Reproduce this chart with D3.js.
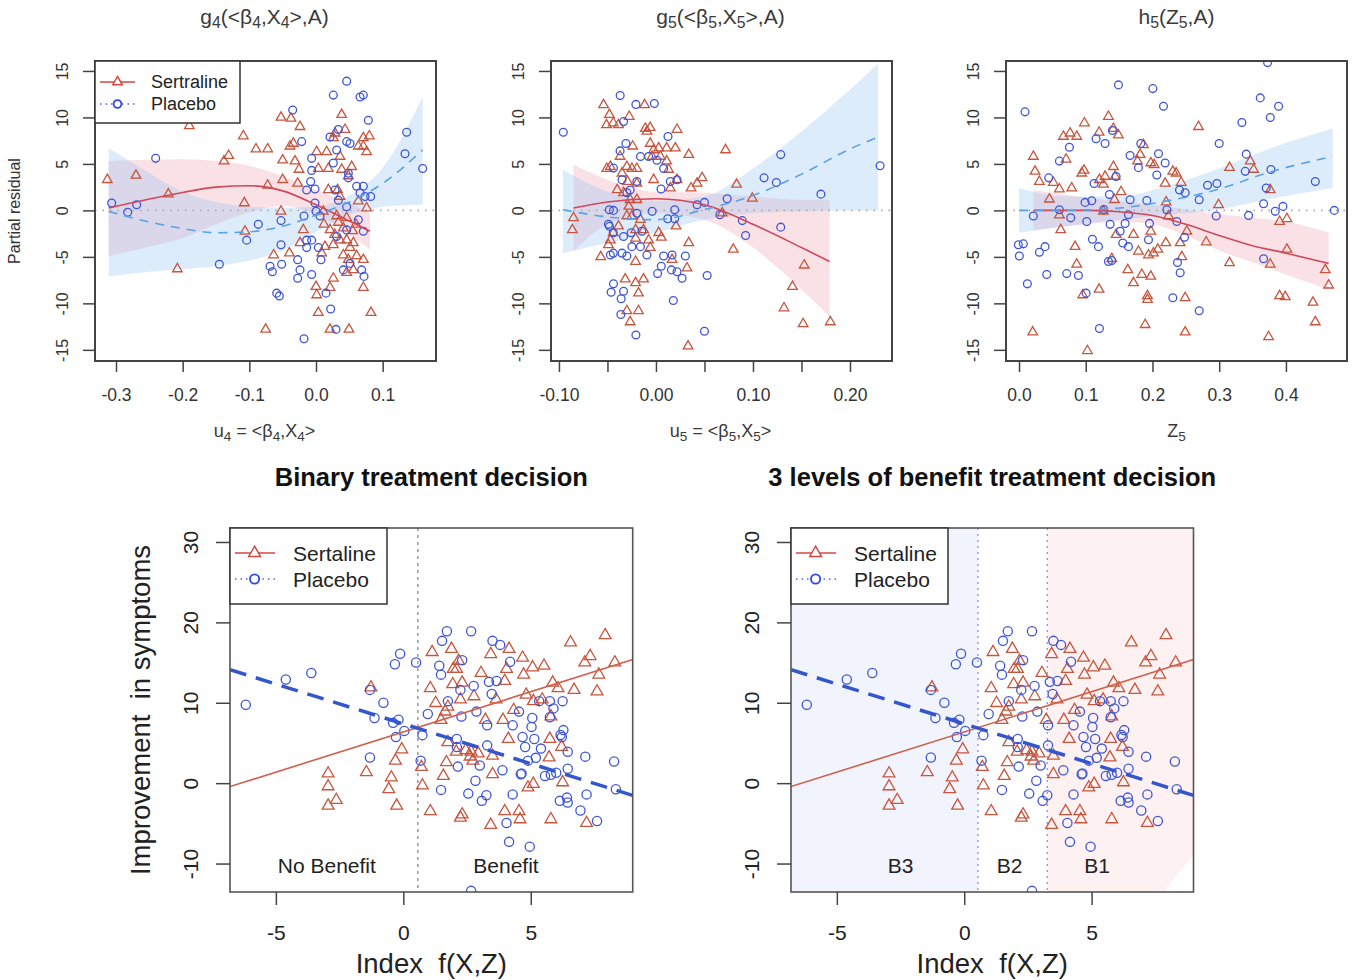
<!DOCTYPE html>
<html>
<head>
<meta charset="utf-8">
<script src="https://cdn.jsdelivr.net/npm/d3@7"></script>
<style>
body { margin: 0; background: #fff; }
svg { font-family: "Liberation Sans", Arial, sans-serif; }
</style>
</head>
<body>
<div id="chart"></div>
<script>
// ---- data ----
var topYTicks = [-15, -10, -5, 0, 5, 10, 15];
var g4XTicks = [-0.3, -0.2, -0.1, 0.0, 0.1];
var g5XTicks = [-0.10, -0.05, 0.00, 0.05, 0.10, 0.15, 0.20];
var h5XTicks = [0.0, 0.1, 0.2, 0.3, 0.4];
var idxXTicks = [-5, 0, 5];
var idxYTicks = [-10, 0, 10, 20, 30];

// [u, fit, lower, upper]
var g4SertFit = [[-0.311,0.25,-4.9,5.3],[-0.25,1.22,-3.9,5.45],[-0.2,1.93,-3.0,5.5],[-0.15,2.5,-1.5,5.3],[-0.1,2.65,-0.2,4.8],[-0.05,2.1,0.5,3.7],[0,0.6,-0.5,2.2],[0.05,-1.15,-2.6,0.8],[0.081,-2.25,-4.2,-0.3]];
var g4PlacFit = [[-0.311,-0.1,-7.1,6.7],[-0.25,-1.25,-6.6,4.0],[-0.2,-1.95,-6.3,2.0],[-0.15,-2.4,-6.0,0.9],[-0.1,-2.3,-5.4,0.4],[-0.05,-1.7,-4.3,0.3],[0,-0.5,-2.3,0.4],[0.05,0.9,-0.5,1.6],[0.1,2.9,0.4,4.6],[0.16,6.5,0.6,12.2]];
var g5SertFit = [[-0.085,0.25,-4.4,4.9],[-0.05,0.9,-1.5,3.3],[0,1.25,-0.3,2.0],[0.05,0.6,-1.0,1.9],[0.1,-1.5,-4.0,1.5],[0.15,-4.0,-8.5,1.15],[0.179,-5.5,-11.4,1.15]];
var g5PlacFit = [[-0.096,0.07,-4.6,4.4],[-0.05,-0.7,-3.5,2.0],[0,-1.0,-2.4,1.0],[0.05,0.1,-1.0,1.5],[0.1,1.6,-0.3,4.5],[0.15,3.9,-0.1,8.5],[0.2,6.6,0,13.0],[0.229,7.9,0,15.8]];
var h5SertFit = [[0.0215,0,-2.1,2.2],[0.1,0,-1.5,1.4],[0.15,-0.15,-1.2,1.0],[0.2,-0.55,-1.5,0.6],[0.25,-1.5,-2.7,0.1],[0.3,-2.7,-4.3,-0.4],[0.35,-3.8,-5.6,-0.8],[0.4,-4.6,-6.9,-1.2],[0.464,-5.7,-8.5,-2.4]];
var h5PlacFit = [[0,0,-2.4,2.4],[0.07,0,-1.7,1.5],[0.15,0.25,-1.0,1.5],[0.22,1.0,-0.5,2.6],[0.3,2.3,0.1,4.5],[0.37,4.0,1.15,6.5],[0.47,5.8,2.4,8.8]];

var g4Sertraline = [[-0.313,3.3],[-0.27,3.76],[-0.2215,1.75],[-0.19,9.1],[-0.208,-6.3],[-0.109,8.0],[-0.1075,0.8],[-0.1065,-2.25],[-0.09,6.6],[-0.0725,6.6],[-0.0725,2.7],[-0.0755,-12.8],[-0.138,5.3],[-0.131,5.9],[-0.0525,10.0],[-0.0375,9.9],[-0.024,9.0],[-0.05,5.4],[-0.05,3.3],[-0.0525,-0.1],[-0.0635,-4.8],[-0.04,-4.6],[-0.034,7.2],[-0.039,6.9],[-0.0315,5.3],[-0.0255,4.4],[-0.0275,2.9],[-0.019,-2.1],[-0.024,-3.5],[0,-8.2],[0.001,-9.1],[0.0035,-11.0],[0.001,6.3],[0.016,6.3],[0.0035,4.5],[0.0185,4.5],[0.0185,2.2],[0.0325,2.2],[0.011,-0.1],[0.0085,-4.6],[0.021,-2.1],[0.026,-3.7],[0.026,-7.3],[0.021,-8.3],[0.021,-12.8],[0.0495,-12.8],[0.0385,10.3],[0.0435,8.7],[0.026,7.8],[0.036,5.8],[0.0385,4.4],[0.0535,4.7],[0.0485,3.7],[0.036,1.5],[0.031,-0.6],[0.041,-1.9],[0.046,-0.8],[0.046,-3.2],[0.056,-3.5],[0.041,-4.8],[0.0485,-5.3],[0.046,-6.7],[0.061,-4.9],[0.0635,6.9],[0.071,6.9],[0.076,6.3],[0.08,8.0],[0.071,7.8],[0.0635,1.0],[0.076,0.25],[0.071,-5.3],[0.071,-8.3],[0.0825,-11.0],[0.056,-6.4],[0.0285,8.3],[0.036,-3.2],[0.051,-4.0],[0.0135,-3.9],[0.0335,-1.3],[0.028,-2.6],[0.055,-2.2],[0.012,-1.5],[0.06,-1.5]];
var g4Placebo = [[-0.3065,0.8],[-0.2825,-0.2],[-0.269,0.6],[-0.2405,5.6],[-0.145,-5.8],[-0.104,-3.2],[-0.0865,-1.5],[-0.069,-6.0],[-0.0655,-6.6],[-0.059,-8.9],[-0.055,-9.2],[-0.0515,-5.8],[-0.0525,-3.7],[-0.0525,-1.1],[-0.035,10.8],[-0.0215,7.4],[-0.0275,-5.3],[-0.0275,-7.3],[-0.024,-6.4],[-0.018,-13.8],[-0.018,-0.6],[-0.014,-3.2],[-0.014,-4.0],[-0.014,2.2],[-0.008,3.1],[-0.0065,5.6],[-0.0065,4.3],[-0.0015,2.3],[0,-0.1],[-0.0065,-3.2],[-0.0065,-6.9],[0.0075,-5.3],[0.006,-0.6],[0.0035,-4.0],[0.015,-8.9],[0.022,-10.6],[0.03,-12.8],[0.026,12.4],[0.046,13.9],[0.066,12.2],[0.071,12.4],[0.0785,9.7],[0.021,7.9],[0.0335,8.7],[0.046,7.4],[0.026,5.1],[0.0485,4.0],[0.0485,3.5],[0.061,2.6],[0.071,2.6],[0.066,1.9],[0.0735,1.5],[0.082,1.5],[0.046,0.4],[0.0635,-1.0],[0.071,-2.25],[0.046,-2.1],[0.051,-5.7],[0.041,-6.4],[0.0685,-6.4],[0.072,-7.1],[0.136,8.4],[0.1335,6.1],[0.16,4.5],[0.031,6.5],[0.051,7.2],[0.0285,2.2],[0.0335,1.1],[0.031,-2.8],[-0.0015,0.8]];

var g5Sertraline = [[-0.085,-0.8],[-0.0862,-2.1],[-0.054,11.35],[-0.048,10.3],[-0.051,9.2],[-0.044,9.4],[-0.0386,9.2],[-0.0276,10.1],[-0.0117,11.35],[-0.011,8.8],[-0.006,8.9],[-0.0093,8.5],[0.0217,8.7],[-0.0569,-5.0],[-0.0507,4.5],[-0.047,4.7],[-0.037,5.8],[-0.024,6.9],[-0.035,4.0],[-0.03,4.7],[-0.0248,4.5],[-0.0197,4.5],[-0.04,2.2],[-0.0293,3.1],[-0.0197,2.9],[-0.0059,7.2],[-0.0024,6.5],[0.0028,6.7],[-0.004,5.8],[0.0045,5.8],[-0.0024,3.3],[0.011,5.3],[0.013,4.4],[0.011,6.7],[0.02,6.7],[0.0148,2.4],[0.0217,3.3],[0.0207,-1.7],[0.0166,-5.3],[0.0338,6.0],[0.0362,2.4],[0.0424,2.9],[0.0476,3.5],[0.0338,-3.5],[0.032,-6.2],[0.0331,-14.6],[0.0717,6.5],[0.0831,2.8],[0.0993,1.3],[0.0683,-0.3],[0.0797,-4.2],[0.1528,-5.9],[0.1407,-8.2],[0.132,-10.5],[0.1517,-12.2],[0.1797,-12.0],[-0.047,-3.2],[-0.049,-3.7],[-0.044,-2.4],[-0.0386,-1.7],[-0.028,0.43],[-0.03,-0.6],[-0.021,-2.1],[-0.0248,-0.6],[-0.0197,1.15],[-0.016,-1.0],[-0.0128,-2.1],[-0.021,-3.0],[-0.021,-5.5],[-0.0317,-7.4],[-0.021,-7.8],[-0.0128,-7.4],[-0.018,-8.9],[-0.03,-10.8],[-0.018,-10.8],[-0.0266,-12.0],[-0.0059,-4.0],[-0.0076,-3.2],[0.0028,-2.4],[0.0055,-2.9],[-0.0266,1.15],[-0.0334,1.9]];
var g5Placebo = [[-0.0955,8.4],[-0.0369,12.35],[-0.0207,11.4],[-0.0017,11.5],[-0.0334,9.55],[-0.031,7.2],[-0.037,6.4],[0.0124,7.95],[-0.0438,4.55],[-0.035,3.3],[-0.03,1.9],[-0.0266,2.2],[-0.0197,3.1],[-0.016,5.8],[-0.0076,5.8],[0.001,5.4],[0.0052,2.3],[0.0148,3.1],[0.0217,3.3],[-0.048,0.07],[-0.0438,0],[-0.049,-1.5],[-0.048,-1.7],[-0.044,-2.4],[-0.0334,-2.8],[-0.0255,-2.4],[-0.0197,-0.3],[-0.0145,-2.25],[-0.004,-0.1],[0.0121,-0.9],[0.0193,0.07],[0.0193,-0.9],[-0.047,-4.8],[-0.044,-4.6],[-0.035,-4.6],[-0.03,-4.9],[-0.0248,-3.9],[-0.016,-3.9],[-0.0093,-4.8],[0.0079,-4.9],[0.0166,-4.8],[0.0303,-4.9],[0.0055,-6.0],[0.0017,-6.8],[0.0159,-6.4],[0.0217,-6.6],[0.0269,-7.3],[0.0528,-7.0],[-0.0438,-7.9],[-0.0462,-8.8],[-0.0334,-8.7],[-0.0359,-9.5],[-0.0362,-11.2],[-0.0207,-13.4],[0.0179,-9.7],[0.05,-13.0],[0.0424,0.6],[0.05,0.86],[0.0734,1.25],[0.089,-1.1],[0.0924,-2.7],[0.1114,3.5],[0.1241,3.0],[0.1286,6.0],[0.1286,-1.8],[0.17,1.75],[0.231,4.8],[0.0659,-0.47],[0.0079,4.5]];

var h5Sertraline = [[0.0215,5.8],[0.024,4.2],[0.0305,3.1],[0.0515,3.0],[0.0605,2.3],[0.079,2.4],[0.0455,1.2],[0.0605,-0.5],[0.0625,-2.1],[0.084,-3.9],[0.0865,-5.8],[0.0955,-9.1],[0.12,-8.5],[0.0205,-13.1],[0.1025,-15.1],[0.0705,5.5],[0.0665,7.95],[0.0765,8.3],[0.0865,7.95],[0.098,9.4],[0.094,4.0],[0.0975,4.3],[0.12,8.4],[0.134,10.1],[0.1415,8.8],[0.149,8.1],[0.1205,3.3],[0.1265,2.8],[0.129,3.65],[0.1415,4.7],[0.144,3.65],[0.153,2.0],[0.143,1.15],[0.1265,-0.1],[0.1455,-2.6],[0.139,-5.2],[0.163,-6.4],[0.1715,-7.8],[0.1715,-2.6],[0.1775,5.3],[0.1815,6.0],[0.1865,7.05],[0.184,-6.9],[0.1975,-7.1],[0.189,-12.3],[0.1925,-9.2],[0.1925,-9.6],[0.1975,-2.25],[0.179,-4.4],[0.194,-4.8],[0.2015,-4.6],[0.208,-4.2],[0.1975,5.1],[0.2025,4.9],[0.219,2.9],[0.2205,0.9],[0.224,-0.6],[0.22,-3.5],[0.2305,4.2],[0.2355,4.0],[0.243,3.0],[0.2415,-3.5],[0.244,-5.0],[0.249,-9.4],[0.249,-13.1],[0.2515,-2.25],[0.269,9.0],[0.2805,-3.4],[0.299,0.6],[0.3155,4.6],[0.3155,-5.65],[0.3465,5.3],[0.3515,4.4],[0.3765,2.2],[0.374,-13.6],[0.3765,-5.8],[0.3905,-1.2],[0.4015,-0.9],[0.4015,-4.2],[0.3905,-9.2],[0.399,-9.3],[0.4405,-9.9],[0.444,-12.0],[0.459,-6.4],[0.464,-8.05]];
var h5Placebo = [[0.009,10.6],[-0.001,-3.7],[0.0065,-3.6],[0.0005,-4.9],[0.0125,-7.9],[0.0215,-0.6],[0.0305,-4.5],[0.039,-3.9],[0.0415,-6.9],[0.0445,3.5],[0.0605,5.3],[0.0605,0.07],[0.0715,-6.8],[0.0755,6.8],[0.0775,-0.8],[0.089,-7.0],[0.1005,-8.9],[0.1015,-1.2],[0.099,0.86],[0.109,1.04],[0.11,-3.1],[0.1125,2.9],[0.119,-3.9],[0.1205,-12.7],[0.1155,7.7],[0.129,7.2],[0.1355,1.7],[0.1365,-1.5],[0.134,-5.5],[0.139,-5.4],[0.14,8.6],[0.149,13.5],[0.1455,3.65],[0.1515,-2.25],[0.1555,-3.5],[0.159,-1.4],[0.164,-3.9],[0.1665,5.9],[0.1665,1.15],[0.179,4.6],[0.1825,7.2],[0.1915,1.07],[0.1955,-1.4],[0.194,-3.15],[0.2005,13.1],[0.209,6.1],[0.2065,3.8],[0.2165,11.2],[0.219,5.1],[0.2215,0.07],[0.2365,-1.2],[0.2405,2.2],[0.249,1.9],[0.2375,-5.6],[0.2415,-6.7],[0.2305,-9.4],[0.248,-2.9],[0.27,1.15],[0.27,-10.8],[0.2825,2.7],[0.2965,2.9],[0.2955,-0.6],[0.3,7.2],[0.334,9.45],[0.3405,6.05],[0.339,4.2],[0.344,-0.54],[0.3615,12.1],[0.3665,0.72],[0.3665,-5.2],[0.3705,2.4],[0.3725,15.9],[0.3765,10.0],[0.3775,4.4],[0.384,-0.1],[0.389,11.2],[0.3955,0.43],[0.444,3.1],[0.4725,0],[0.127,0.1],[0.164,-0.47]];

var indexSertraline = [[-2.95,1.2],[-2.95,-0.4],[-2.95,-2.8],[-2.63,-2.1],[-1.45,1.35],[-1.27,11.9],[-0.57,-0.75],[-0.47,0.7],[-0.31,2.8],[-0.26,-2.8],[-0.06,4.2],[0.71,2.0],[0.75,-0.3],[1.06,-3.5],[1.13,16.3],[1.06,11.8],[1.27,9.96],[1.48,7.86],[1.57,0.9],[1.69,2.6],[1.75,5.1],[1.75,9.5],[1.89,16.7],[1.96,14.2],[1.94,12.3],[2.08,3.9],[2.17,15.2],[2.24,10.4],[2.31,12.5],[2.24,-4.3],[2.31,-3.9],[2.45,4.1],[2.66,3.9],[2.77,10.8],[2.94,3.7],[2.73,2.8],[3.05,13.7],[3.22,7.86],[3.43,16.05],[3.5,3.4],[3.64,10.4],[3.5,1.1],[3.43,-5.2],[3.91,7.86],[3.98,12.7],[4.05,14.2],[4.15,16.7],[3.98,-3.5],[4.12,5.5],[4.33,9.1],[4.54,-3.5],[4.58,-4.5],[4.72,13.5],[4.68,15.6],[4.82,11.0],[4.89,-0.55],[5.1,-0.1],[5.07,14.4],[5.1,10.2],[5.52,14.6],[5.45,10.4],[5.72,3.2],[5.79,-4.5],[5.79,8.3],[5.75,5.5],[5.86,12.5],[6.07,11.8],[6.25,0.1],[6.21,4.5],[6.56,17.5],[6.7,11.6],[7.12,15.0],[7.33,15.8],[7.19,-4.96],[7.6,11.4],[7.67,13.5],[7.92,18.4],[8.3,15.0],[2.09,14.2],[2.62,3.3],[1.64,8.9]];
var indexPlacebo = [[-6.18,9.75],[-4.61,12.9],[-3.61,13.7],[-1.31,11.6],[-1.13,8.1],[-1.31,3.2],[-0.78,10.0],[-0.33,14.8],[-0.125,16.1],[-0.4,7.5],[-0.19,7.9],[-0.29,5.75],[0.04,6.5],[0.5,15.0],[0.68,2.8],[0.75,5.97],[0.96,8.6],[1.48,-0.84],[1.41,14.6],[1.48,13.5],[1.52,17.7],[1.71,18.9],[1.75,10.2],[2.1,5.5],[2.1,4.5],[2.14,2.06],[2.24,11.6],[2.28,8.3],[2.31,15.3],[2.55,-1.3],[2.66,18.9],[2.76,12.1],[2.83,0.3],[2.87,8.9],[3.0,2.2],[3.08,-2.2],[3.26,-1.5],[3.29,7.2],[3.29,4.7],[3.36,12.6],[3.47,11.1],[3.5,17.7],[3.66,12.7],[3.8,17.2],[3.89,1.6],[4.05,-4.96],[4.15,-7.3],[4.19,15.1],[4.29,7.2],[4.29,-1.4],[4.54,8.9],[4.61,1.1],[4.68,5.75],[4.78,4.5],[4.89,2.8],[4.96,-7.9],[5.06,8.1],[5.03,7.0],[5.14,5.5],[5.2,3.15],[5.33,10.2],[5.4,4.3],[5.56,0.9],[5.75,10.2],[5.79,1.05],[5.89,9.3],[6.0,1.3],[6.14,-2.2],[6.17,6.0],[6.25,10.2],[6.28,6.6],[6.42,-1.8],[6.45,-2.4],[6.45,1.8],[6.45,3.9],[6.95,-3.4],[7.14,3.3],[7.19,-1.4],[7.6,-4.7],[8.27,2.7],[8.34,-0.76],[2.66,-13.4],[5.75,8.2],[6.22,5.75],[4.64,1.2]];

// linear fits [intercept, slope]
var sertralineLine = [6.37, 1.0];
var placeboLine = [7.38, -0.99];
var binaryCut = [0.57];
var levelCuts = [0.54, 3.26];
var b1Corner = [7.82, -8.9];   // white corner cut out of the B1 shading
var binaryLabels = [["No Benefit", -3.0], ["Benefit", 4.03]];
var levelLabels = [["B3", -2.5], ["B2", 1.78], ["B1", 5.22]];

var RED = "#c8553d", BLUE = "#3d55d8";

var svg = d3.select("#chart").append("svg")
    .attr("width", 1352)
    .attr("height", 980);

function richText(sel, parts, fs) {
    var shift = 0;
    parts.forEach(function(p) {
        var sub = Array.isArray(p);
        var t = sel.append("tspan").text(sub ? p[0] : p);
        var target = sub ? fs * 0.2 : 0;
        if (target !== shift) { t.attr("dy", target - shift); shift = target; }
        if (sub) t.attr("font-size", fs * 0.75);
    });
}

function points(g, x, y, tri, cir, triSize, r) {
    var sym = d3.symbol().type(d3.symbolTriangle).size(triSize);
    g.selectAll(null).data(tri).enter().append("path")
        .attr("transform", function(d) { return "translate(" + x(d[0]) + "," + y(d[1]) + ")"; })
        .attr("d", sym)
        .attr("fill", "none").attr("stroke", RED).attr("stroke-width", 1.3);
    g.selectAll(null).data(cir).enter().append("circle")
        .attr("cx", function(d) { return x(d[0]); })
        .attr("cy", function(d) { return y(d[1]); })
        .attr("r", r)
        .attr("fill", "none").attr("stroke", BLUE).attr("stroke-width", 1.3);
}

function legend(x0, y0, w, h, lx, tx, rows, fs, triSize, r, labels) {
    svg.append("rect").attr("x", x0).attr("y", y0).attr("width", w).attr("height", h)
        .attr("fill", "#fff").attr("stroke", "#333").attr("stroke-width", 1.5);
    var sym = d3.symbol().type(d3.symbolTriangle).size(triSize);
    svg.append("line").attr("x1", lx[0]).attr("x2", lx[2]).attr("y1", rows[0]).attr("y2", rows[0])
        .attr("stroke", "#d04a40").attr("stroke-width", 1.5);
    svg.append("path").attr("d", sym).attr("transform", "translate(" + lx[1] + "," + rows[0] + ")")
        .attr("fill", "#fff").attr("stroke", "#d04a40").attr("stroke-width", 1.5);
    svg.append("line").attr("x1", lx[0]).attr("x2", lx[2]).attr("y1", rows[1]).attr("y2", rows[1])
        .attr("stroke", "#4a66e8").attr("stroke-width", 1.6).attr("stroke-dasharray", "1.5,4");
    svg.append("circle").attr("cx", lx[1]).attr("cy", rows[1]).attr("r", r)
        .attr("fill", "#fff").attr("stroke", "#3048e0").attr("stroke-width", 1.8);
    labels.forEach(function(t, i) {
        svg.append("text").attr("x", tx).attr("y", rows[i]).attr("dy", "0.36em")
            .attr("font-size", fs).attr("fill", "#222").text(t);
    });
}

// ---- top row: partial residual plots ----
var topYDomain = [-16.2, 16.07];

function drawTop(p) {
    var x = d3.scaleLinear().domain(p.xDomain).range([p.x0, p.x1]);
    var y = d3.scaleLinear().domain(topYDomain).range([361, 61]);
    svg.append("clipPath").attr("id", "clip" + p.id)
        .append("rect").attr("x", p.x0).attr("y", 61).attr("width", p.x1 - p.x0).attr("height", 300);
    var g = svg.append("g").attr("clip-path", "url(#clip" + p.id + ")");

    var band = d3.area().curve(d3.curveMonotoneX)
        .x(function(d) { return x(d[0]); })
        .y0(function(d) { return y(d[2]); })
        .y1(function(d) { return y(d[3]); });
    var fit = d3.line().curve(d3.curveMonotoneX)
        .x(function(d) { return x(d[0]); })
        .y(function(d) { return y(d[1]); });

    g.append("path").attr("d", band(p.sertFit)).attr("fill", "#e8899a").attr("fill-opacity", 0.25);
    g.append("path").attr("d", band(p.placFit)).attr("fill", "#8fc0f2").attr("fill-opacity", 0.3);
    g.append("line").attr("x1", p.x0).attr("x2", p.x1).attr("y1", y(0)).attr("y2", y(0))
        .attr("stroke", "#aaa").attr("stroke-width", 1.6).attr("stroke-dasharray", "1.5,6");

    points(g, x, y, p.sert, p.plac, 40, 3.9);

    g.append("path").attr("d", fit(p.sertFit)).attr("fill", "none")
        .attr("stroke", "#d0485c").attr("stroke-width", 1.6);
    g.append("path").attr("d", fit(p.placFit)).attr("fill", "none")
        .attr("stroke", "#5aa2e8").attr("stroke-width", 1.6).attr("stroke-dasharray", "9,7");

    svg.append("rect").attr("x", p.x0).attr("y", 61).attr("width", p.x1 - p.x0).attr("height", 300)
        .attr("fill", "none").attr("stroke", "#444").attr("stroke-width", 2);

    var ya = svg.append("g").attr("transform", "translate(" + p.x0 + ",0)")
        .call(d3.axisLeft(y).tickValues(topYTicks).tickSize(12).tickSizeOuter(0).tickFormat(String));
    ya.select(".domain").remove();
    ya.selectAll("line").attr("stroke", "#444").attr("stroke-width", 1.5);
    ya.selectAll("text").attr("x", null).attr("dy", null)
        .attr("transform", "translate(-33,0) rotate(-90)")
        .attr("text-anchor", "middle").attr("dominant-baseline", "central")
        .attr("font-size", 16).attr("font-family", "Liberation Sans, Arial, sans-serif").attr("fill", "#333");

    var xa = svg.append("g").attr("transform", "translate(0,361)")
        .call(d3.axisBottom(x).tickValues(p.ticks).tickSize(11).tickSizeOuter(0).tickFormat(p.fmt));
    xa.select(".domain").remove();
    xa.selectAll("line").attr("stroke", "#444").attr("stroke-width", 1.5);
    xa.selectAll("text").attr("y", 34).attr("dy", "0.35em")
        .attr("font-size", 17.5).attr("font-family", "Liberation Sans, Arial, sans-serif").attr("fill", "#333");

    var cx = (p.x0 + p.x1) / 2 + p.shift;
    richText(svg.append("text").attr("x", cx).attr("y", 24).attr("text-anchor", "middle")
        .attr("font-size", 21).attr("fill", "#3a3a3a"), p.title, 21);
    richText(svg.append("text").attr("x", cx).attr("y", 437).attr("text-anchor", "middle")
        .attr("font-size", 18).attr("fill", "#3a3a3a"), p.xlab, 18);
}

drawTop({
    id: 1, x0: 95, x1: 436, xDomain: [-0.3315, 0.18], ticks: g4XTicks, shift: -1,
    fmt: function(d) { return d.toFixed(1); },
    title: ["g", ["4"], "(<β", ["4"], ",X", ["4"], ">,A)"],
    xlab: ["u", ["4"], " = <β", ["4"], ",X", ["4"], ">"],
    sert: g4Sertraline, plac: g4Placebo, sertFit: g4SertFit, placFit: g4PlacFit
});
drawTop({
    id: 2, x0: 551, x1: 892, xDomain: [-0.1082, 0.2433], ticks: g5XTicks, shift: -1,
    fmt: function(d, i) { return i % 2 === 0 ? d.toFixed(2) : ""; },
    title: ["g", ["5"], "(<β", ["5"], ",X", ["5"], ">,A)"],
    xlab: ["u", ["5"], " = <β", ["5"], ",X", ["5"], ">"],
    sert: g5Sertraline, plac: g5Placebo, sertFit: g5SertFit, placFit: g5PlacFit
});
drawTop({
    id: 3, x0: 1006, x1: 1347, xDomain: [-0.0195, 0.4915], ticks: h5XTicks, shift: 0,
    fmt: function(d) { return d.toFixed(1); },
    title: ["h", ["5"], "(Z", ["5"], ",A)"],
    xlab: ["Z", ["5"]],
    sert: h5Sertraline, plac: h5Placebo, sertFit: h5SertFit, placFit: h5PlacFit
});

svg.append("text").attr("transform", "translate(20,211) rotate(-90)")
    .attr("text-anchor", "middle").attr("font-size", 16).attr("fill", "#333")
    .text("Partial residual");

legend(95, 61, 145, 62, [100, 117.5, 135], 151, [82, 104], 18, 40, 3.9, ["Sertraline", "Placebo"]);

// ---- bottom row: treatment decision plots ----
var idxXDomain = [-6.8, 9.0];
var idxYDomain = [-13.54, 31.74];

function drawBottom(p) {
    var x = d3.scaleLinear().domain(idxXDomain).range([p.x0, p.x1]);
    var y = d3.scaleLinear().domain(idxYDomain).range([892, 528]);
    svg.append("clipPath").attr("id", "clip" + p.id)
        .append("rect").attr("x", p.x0).attr("y", 528).attr("width", p.x1 - p.x0).attr("height", 364);
    var g = svg.append("g").attr("clip-path", "url(#clip" + p.id + ")");

    if (p.levels) {
        g.append("rect").attr("x", x(idxXDomain[0])).attr("y", 528)
            .attr("width", x(levelCuts[0]) - x(idxXDomain[0])).attr("height", 364)
            .attr("fill", "#f2f4fd");
        var pink = [[levelCuts[1], idxYDomain[1]], [idxXDomain[1], idxYDomain[1]], [idxXDomain[1], b1Corner[1]],
                    [b1Corner[0], idxYDomain[0]], [levelCuts[1], idxYDomain[0]]];
        g.append("path").attr("d", d3.line().x(function(d) { return x(d[0]); }).y(function(d) { return y(d[1]); })(pink) + "Z")
            .attr("fill", "#fdf1f1");
    }

    p.cuts.forEach(function(c) {
        g.append("line").attr("x1", x(c)).attr("x2", x(c)).attr("y1", 528).attr("y2", 892)
            .attr("stroke", p.levels ? "#9a9af0" : "#999").attr("stroke-width", 1.5)
            .attr("stroke-dasharray", p.levels ? "2,4" : "3,4");
    });

    points(g, x, y, indexSertraline, indexPlacebo, 60, 4.6);

    var ends = idxXDomain;
    g.append("line")
        .attr("x1", x(ends[0])).attr("y1", y(sertralineLine[0] + sertralineLine[1] * ends[0]))
        .attr("x2", x(ends[1])).attr("y2", y(sertralineLine[0] + sertralineLine[1] * ends[1]))
        .attr("stroke", "#d0604c").attr("stroke-width", 1.6);
    g.append("line")
        .attr("x1", x(ends[0])).attr("y1", y(placeboLine[0] + placeboLine[1] * ends[0]))
        .attr("x2", x(ends[1])).attr("y2", y(placeboLine[0] + placeboLine[1] * ends[1]))
        .attr("stroke", "#3456cc").attr("stroke-width", 3.5).attr("stroke-dasharray", "17,10");

    p.labels.forEach(function(l) {
        svg.append("text").attr("x", x(l[1])).attr("y", y(-10.2)).attr("dy", "0.36em")
            .attr("text-anchor", "middle").attr("font-size", 21).attr("fill", "#222").text(l[0]);
    });

    svg.append("rect").attr("x", p.x0).attr("y", 528).attr("width", p.x1 - p.x0).attr("height", 364)
        .attr("fill", "none").attr("stroke", "#555").attr("stroke-width", 1.6);

    var ya = svg.append("g").attr("transform", "translate(" + p.x0 + ",0)")
        .call(d3.axisLeft(y).tickValues(idxYTicks).tickSize(14).tickSizeOuter(0).tickFormat(String));
    ya.select(".domain").remove();
    ya.selectAll("line").attr("stroke", "#444").attr("stroke-width", 1.5);
    ya.selectAll("text").attr("x", null).attr("dy", null)
        .attr("transform", "translate(-40,0) rotate(-90)")
        .attr("text-anchor", "middle").attr("dominant-baseline", "central")
        .attr("font-size", 21).attr("font-family", "Liberation Sans, Arial, sans-serif").attr("fill", "#222");

    var xa = svg.append("g").attr("transform", "translate(0,892)")
        .call(d3.axisBottom(x).tickValues(idxXTicks).tickSize(13).tickSizeOuter(0).tickFormat(String));
    xa.select(".domain").remove();
    xa.selectAll("line").attr("stroke", "#444").attr("stroke-width", 1.5);
    xa.selectAll("text").attr("y", 41).attr("dy", "0.35em")
        .attr("font-size", 21).attr("font-family", "Liberation Sans, Arial, sans-serif").attr("fill", "#222");

    var cx = (p.x0 + p.x1) / 2;
    svg.append("text").attr("x", cx).attr("y", 963).attr("dy", "0.36em").attr("text-anchor", "middle")
        .attr("font-size", 27.5).attr("fill", "#222").attr("xml:space", "preserve").text("Index  f(X,Z)");
    svg.append("text").attr("x", cx).attr("y", 477).attr("dy", "0.36em").attr("text-anchor", "middle")
        .attr("font-size", 25.5).attr("font-weight", "bold").attr("fill", "#111").text(p.title);

    legend(p.x0, 528, p.lw, 76, [p.x0 + 5, p.x0 + 24.6, p.x0 + 45], p.x0 + 63, [553, 579], 21, 60, 4.6, ["Sertaline", "Placebo"]);
}

drawBottom({ id: 4, x0: 230, x1: 632.7, cuts: binaryCut, labels: binaryLabels, levels: false,
    lw: 157, title: "Binary treatment decision" });
drawBottom({ id: 5, x0: 791, x1: 1193.5, cuts: levelCuts, labels: levelLabels, levels: true,
    lw: 157, title: "3 levels of benefit treatment decision" });

svg.append("text").attr("transform", "translate(140,710) rotate(-90)").attr("dy", "0.36em")
    .attr("text-anchor", "middle").attr("font-size", 27.5).attr("fill", "#222")
    .attr("xml:space", "preserve").text("Improvement  in symptoms");
</script>
</body>
</html>
